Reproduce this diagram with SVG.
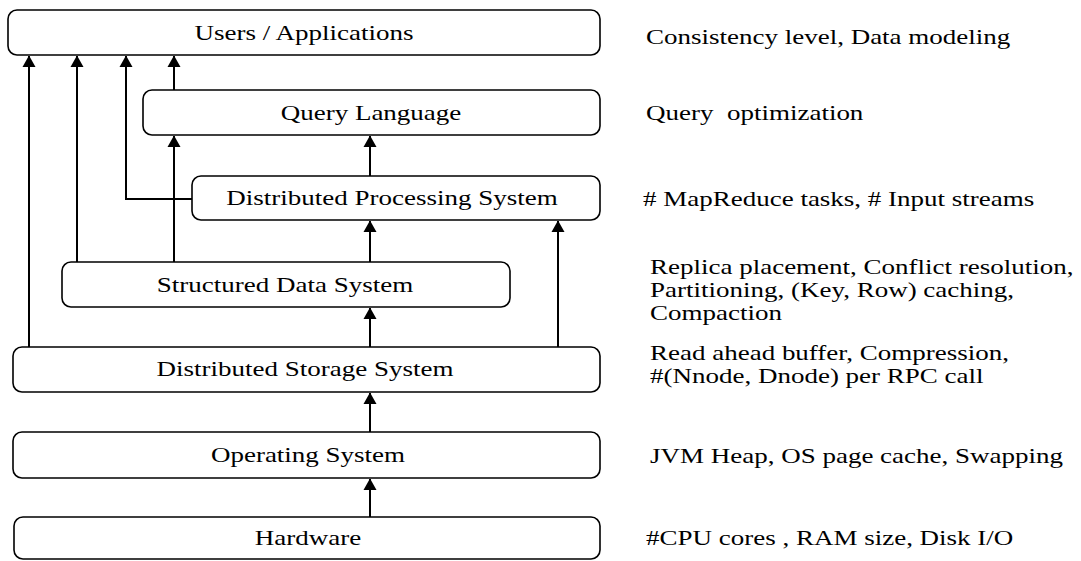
<svg xmlns="http://www.w3.org/2000/svg" width="1081" height="561" viewBox="0 0 1081 561">
<style>
.box{fill:#fff;stroke:#000;stroke-width:1.6}
.lbl{font-family:"Liberation Serif","Times New Roman",serif;font-size:20px;fill:#000}
.mid{text-anchor:middle}
.conn{fill:none;stroke:#000;stroke-width:2}
</style>
<defs>
<marker id="ah" markerUnits="userSpaceOnUse" markerWidth="14" markerHeight="13" viewBox="0 0 14 13" refX="7" refY="0.5" orient="0">
<path d="M7,0 L13.5,11.5 L0.5,11.5 Z" fill="#000"/>
</marker>
</defs>
<rect width="1081" height="561" fill="#fff"/>
<g id="connectors">
<path class="conn" d="M29,347 V56" marker-end="url(#ah)"/>
<path class="conn" d="M77,262 V56" marker-end="url(#ah)"/>
<path class="conn" d="M192,199 H126 V56" marker-end="url(#ah)"/>
<path class="conn" d="M174,90 V56" marker-end="url(#ah)"/>
<path class="conn" d="M174,262 V136" marker-end="url(#ah)"/>
<path class="conn" d="M370,176 V136" marker-end="url(#ah)"/>
<path class="conn" d="M370,262 V221" marker-end="url(#ah)"/>
<path class="conn" d="M558,347 V221" marker-end="url(#ah)"/>
<path class="conn" d="M370,347 V308" marker-end="url(#ah)"/>
<path class="conn" d="M370,432 V393" marker-end="url(#ah)"/>
<path class="conn" d="M370,517 V479" marker-end="url(#ah)"/>
</g>
<g id="users">
<rect class="box" x="8" y="10" width="592" height="45" rx="9"/>
<text class="lbl mid" transform="translate(304,40) scale(1.35,1)">Users / Applications</text>
</g>
<g id="query-language">
<rect class="box" x="143" y="90" width="457" height="45" rx="9"/>
<text class="lbl mid" transform="translate(371,120) scale(1.35,1)">Query Language</text>
</g>
<g id="distributed-processing">
<rect class="box" x="192" y="176" width="408" height="44" rx="9"/>
<text class="lbl mid" transform="translate(392,205) scale(1.35,1)">Distributed Processing System</text>
</g>
<g id="structured-data">
<rect class="box" x="62" y="262" width="448" height="45" rx="9"/>
<text class="lbl mid" transform="translate(285,292) scale(1.35,1)">Structured Data System</text>
</g>
<g id="distributed-storage">
<rect class="box" x="13" y="347" width="587" height="45" rx="9"/>
<text class="lbl mid" transform="translate(305,376) scale(1.35,1)">Distributed Storage System</text>
</g>
<g id="operating-system">
<rect class="box" x="13" y="432" width="587" height="46" rx="9"/>
<text class="lbl mid" transform="translate(308,462) scale(1.35,1)">Operating System</text>
</g>
<g id="hardware">
<rect class="box" x="14" y="517" width="586" height="42" rx="9"/>
<text class="lbl mid" transform="translate(308,545) scale(1.35,1)">Hardware</text>
</g>
<g id="notes">
<text class="lbl" transform="translate(646,44) scale(1.35,1)">Consistency level, Data modeling</text>
<text class="lbl" transform="translate(646,120) scale(1.35,1)" xml:space="preserve">Query  optimization</text>
<text class="lbl" transform="translate(643,206) scale(1.35,1)"># MapReduce tasks, # Input streams</text>
<text class="lbl" transform="translate(650,274) scale(1.35,1)">Replica placement, Conflict resolution,</text>
<text class="lbl" transform="translate(650,297) scale(1.35,1)">Partitioning, (Key, Row) caching,</text>
<text class="lbl" transform="translate(650,320) scale(1.35,1)">Compaction</text>
<text class="lbl" transform="translate(650,360) scale(1.35,1)">Read ahead buffer, Compression,</text>
<text class="lbl" transform="translate(650,383) scale(1.35,1)">#(Nnode, Dnode) per RPC call</text>
<text class="lbl" transform="translate(650,463) scale(1.35,1)">JVM Heap, OS page cache, Swapping</text>
<text class="lbl" transform="translate(646,545) scale(1.35,1)">#CPU cores , RAM size, Disk I/O</text>
</g>
</svg>
